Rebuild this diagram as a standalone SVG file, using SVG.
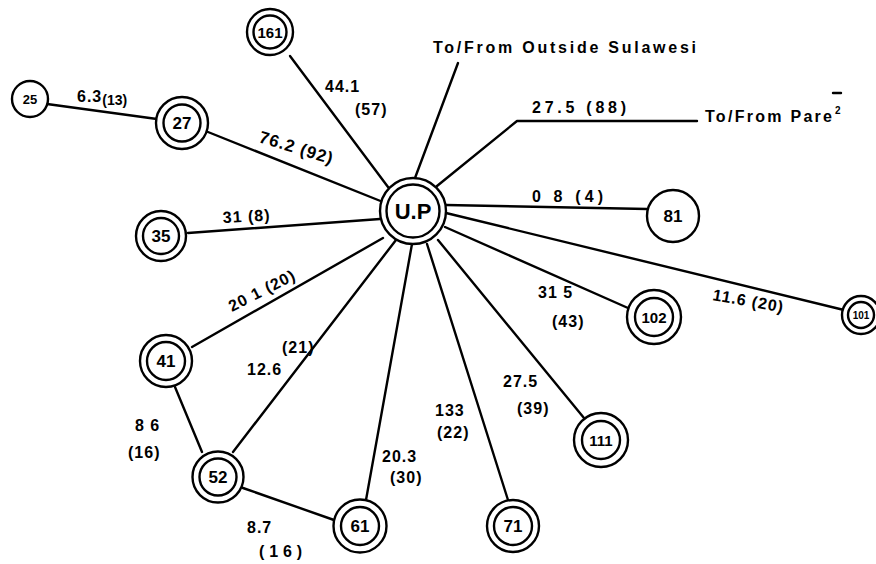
<svg xmlns="http://www.w3.org/2000/svg" width="876" height="564" viewBox="0 0 876 564">
<style>
.ln{stroke:#000;stroke-width:2.4;fill:none;stroke-linecap:round;stroke-linejoin:round}
.c{stroke:#000;stroke-width:2.4;fill:#fff}
.t{font-family:"Liberation Sans",Arial,sans-serif;font-weight:bold;font-size:16px;letter-spacing:1px;fill:#000}
.n{font-family:"Liberation Sans",Arial,sans-serif;font-weight:bold;font-size:17px;fill:#000;text-anchor:middle}
</style>
<rect width="876" height="564" fill="#fff"/>
<g id="connectors">
<line class="ln" x1="47" y1="104" x2="157" y2="119"/>
<line class="ln" x1="208" y1="132" x2="383" y2="202"/>
<line class="ln" x1="290" y1="56" x2="388" y2="187"/>
<line class="ln" x1="188" y1="233" x2="380" y2="219"/>
<line class="ln" x1="192" y1="347" x2="383" y2="238"/>
<line class="ln" x1="233" y1="452" x2="396" y2="240"/>
<line class="ln" x1="366" y1="500" x2="412" y2="244"/>
<line class="ln" x1="508" y1="500" x2="427" y2="244"/>
<line class="ln" x1="584" y1="418" x2="438" y2="240"/>
<line class="ln" x1="628" y1="308" x2="445" y2="227"/>
<line class="ln" x1="844" y1="310" x2="446" y2="213"/>
<line class="ln" x1="647" y1="209" x2="446" y2="205"/>
<line class="ln" x1="175" y1="387" x2="202" y2="452"/>
<line class="ln" x1="243" y1="488" x2="334" y2="520"/>
<line class="ln" x1="458" y1="63" x2="415" y2="178"/>
<polyline class="ln" points="437,186 517,121 697,121"/>
<line class="ln" x1="833" y1="93" x2="841" y2="93"/>
</g>
<g id="node-UP"><circle class="c" cx="413" cy="211" r="33"/><circle class="c" cx="413" cy="211" r="26.5"/><text class="n" x="413" y="219" style="font-size:22px">U.P</text></g>
<g id="node-161"><circle class="c" cx="270" cy="32" r="23"/><circle class="c" cx="270" cy="32" r="16.5"/><text class="n" x="270" y="38" style="font-size:15px">161</text></g>
<g id="node-25"><circle class="c" cx="30" cy="99" r="18"/><text class="n" x="30" y="104" style="font-size:13px">25</text></g>
<g id="node-27"><circle class="c" cx="182" cy="123" r="26"/><circle class="c" cx="182" cy="123" r="18.5"/><text class="n" x="182" y="129">27</text></g>
<g id="node-35"><circle class="c" cx="161" cy="236" r="25"/><circle class="c" cx="161" cy="236" r="18"/><text class="n" x="161" y="242">35</text></g>
<g id="node-41"><circle class="c" cx="166" cy="361" r="26"/><circle class="c" cx="166" cy="361" r="19"/><text class="n" x="166" y="367">41</text></g>
<g id="node-52"><circle class="c" cx="218" cy="477" r="25.5"/><circle class="c" cx="218" cy="477" r="18.5"/><text class="n" x="218" y="483">52</text></g>
<g id="node-61"><circle class="c" cx="360" cy="526" r="26.5"/><circle class="c" cx="360" cy="526" r="19"/><text class="n" x="360" y="532">61</text></g>
<g id="node-71"><circle class="c" cx="513" cy="526" r="26"/><circle class="c" cx="513" cy="526" r="19"/><text class="n" x="513" y="532">71</text></g>
<g id="node-111"><circle class="c" cx="601" cy="440" r="27"/><circle class="c" cx="601" cy="440" r="19"/><text class="n" x="601" y="446" style="font-size:15px">111</text></g>
<g id="node-102"><circle class="c" cx="654" cy="317" r="27"/><circle class="c" cx="654" cy="317" r="19"/><text class="n" x="654" y="323" style="font-size:15px">102</text></g>
<g id="node-81"><circle class="c" cx="673" cy="216" r="26"/><text class="n" x="673" y="222">81</text></g>
<g id="node-101"><circle class="c" cx="861" cy="315" r="19"/><circle class="c" cx="861" cy="315" r="13"/><text class="n" x="861" y="319" style="font-size:10px">101</text></g>
<g id="labels">
<text class="t" x="433" y="53" textLength="264" lengthAdjust="spacing">To/From Outside Sulawesi</text>
<text class="t" x="705" y="122" textLength="128" lengthAdjust="spacing">To/From Pare</text>
<text class="t" x="835" y="114" style="font-size:10px;letter-spacing:0">2</text>
<text class="t" x="77" y="102">6.3<tspan style="font-size:14px;letter-spacing:0" dy="3">(13)</tspan></text>
<text class="t" x="258" y="142" style="font-size:17px" transform="rotate(17 258 142)">76.2 (92)</text>
<text class="t" x="325" y="92">44.1</text>
<text class="t" x="355" y="115">(57)</text>
<text class="t" x="532" y="113" textLength="95" lengthAdjust="spacing">27.5 (88)</text>
<text class="t" x="532" y="202" textLength="72" lengthAdjust="spacing">0 8 (4)</text>
<text class="t" x="223" y="223" transform="rotate(-3 223 223)">31 (8)</text>
<text class="t" x="232" y="312" transform="rotate(-27 232 312)">20 1 (20)</text>
<text class="t" x="282" y="353">(21)</text>
<text class="t" x="247" y="375">12.6</text>
<text class="t" x="135" y="431">8 6</text>
<text class="t" x="128" y="458">(16)</text>
<text class="t" x="247" y="533">8.7</text>
<text class="t" x="259" y="557" textLength="44" lengthAdjust="spacing">(16)</text>
<text class="t" x="382" y="462">20.3</text>
<text class="t" x="390" y="483">(30)</text>
<text class="t" x="435" y="416">133</text>
<text class="t" x="437" y="438">(22)</text>
<text class="t" x="503" y="387">27.5</text>
<text class="t" x="517" y="414">(39)</text>
<text class="t" x="538" y="298">31 5</text>
<text class="t" x="552" y="327">(43)</text>
<text class="t" x="712" y="300" transform="rotate(10 712 300)">11.6 (20)</text>
</g>
</svg>
